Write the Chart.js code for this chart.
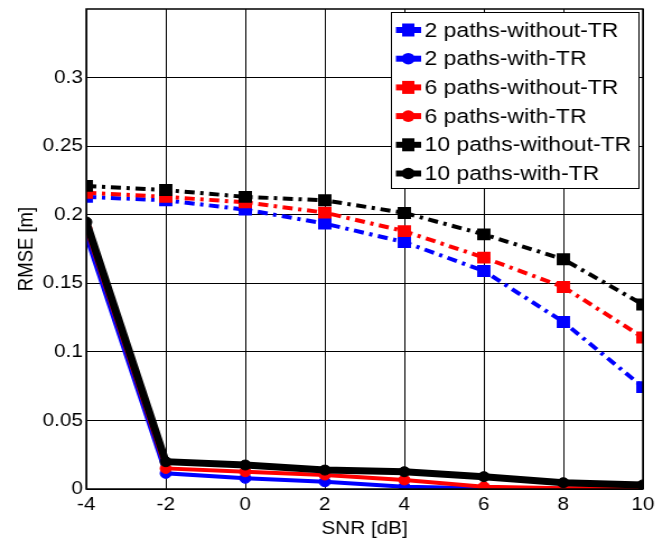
<!DOCTYPE html>
<html><head><meta charset="utf-8">
<script src="https://cdn.jsdelivr.net/npm/chart.js@4/dist/chart.umd.min.js"></script>
<style>
html,body{margin:0;padding:0;background:#fff;overflow:hidden}
#wrap{width:598px;height:540px;transform:scaleX(1.12);transform-origin:0 0}
</style>
</head><body><div id="wrap"><canvas id="c" width="598" height="540"></canvas></div>
<script>
const snr = [-4, -2, 0, 2, 4, 6, 8, 10];
const seriesLabels = ['2 paths-without-TR','2 paths-with-TR','6 paths-without-TR','6 paths-with-TR','10 paths-without-TR','10 paths-with-TR'];
const p2NoTR  = [0.213, 0.2105, 0.2037, 0.1935, 0.180, 0.159, 0.1218, 0.0743];
const p2TR    = [0.184, 0.0114, 0.0078, 0.0053, 0.0017, 0.0005, 0.0002, 0.0003];
const p6NoTR  = [0.216, 0.213, 0.209, 0.2015, 0.188, 0.1687, 0.1473, 0.1105];
const p6TR    = [0.190, 0.015, 0.0126, 0.0102, 0.0066, 0.0017, 0.0005, 0.001];
const p10NoTR = [0.221, 0.218, 0.213, 0.2105, 0.2013, 0.1857, 0.1675, 0.1345];
const p10TR   = [0.1947, 0.0199, 0.0175, 0.0138, 0.0126, 0.009, 0.0046, 0.003];
const yTicks = [0, 0.05, 0.1, 0.15, 0.2, 0.25, 0.3];
const xTicks = [-4, -2, 0, 2, 4, 6, 8, 10];

const toXY = arr => arr.map((v, i) => ({x: snr[i], y: v}));
const FONT = "'Liberation Sans', Arial, sans-serif";

function noTR(label, color, data, order) {
  return {label, data: toXY(data), borderColor: color, backgroundColor: color,
    borderWidth: 4, borderDash: [9, 5, 3, 5], pointStyle: 'rect', pointRadius: 7,
    pointBorderWidth: 2, pointBorderColor: color, pointBackgroundColor: color, order, _mk: 'rect'};
}
function withTR(label, color, data, width, order) {
  return {label, data: toXY(data), borderColor: color, backgroundColor: color,
    borderWidth: width, pointStyle: 'circle', pointRadius: 5,
    pointBorderWidth: 1, pointBorderColor: color, pointBackgroundColor: color, order, _mk: 'circle'};
}

const legendPlugin = {
  id: 'inLegend',
  afterDraw(chart) {
    const ctx = chart.ctx;
    const ca = chart.chartArea;
    ctx.save();
    ctx.strokeStyle = '#000'; ctx.lineWidth = 1.5;
    ctx.strokeRect(ca.left, ca.top, ca.right - ca.left, ca.bottom - ca.top);
    const bx = 349, by = 12, bw = 221, bh = 176;
    ctx.fillStyle = '#fff'; ctx.fillRect(bx, by, bw, bh);
    ctx.strokeStyle = '#000'; ctx.lineWidth = 1; ctx.strokeRect(bx + 0.5, by + 0.5, bw, bh);
    ctx.font = '20.5px ' + FONT; ctx.textBaseline = 'middle'; ctx.textAlign = 'left';
    chart.data.datasets.forEach((ds, i) => {
      const y = 30 + i * 28.7;
      ctx.strokeStyle = ds.borderColor; ctx.fillStyle = ds.borderColor;
      ctx.lineWidth = 6; ctx.setLineDash([]);
      ctx.beginPath(); ctx.moveTo(353.5, y); ctx.lineTo(376, y); ctx.stroke();
      if (ds._mk === 'rect') { ctx.fillRect(359, y - 6.5, 11, 13); }
      else { ctx.beginPath(); ctx.arc(364.5, y, 5.8, 0, Math.PI * 2); ctx.fill(); }
      ctx.fillStyle = '#000';
      ctx.fillText(ds.label, 379, y + 1);
    });
    ctx.restore();
  }
};

new Chart(document.getElementById('c'), {
  type: 'line',
  data: {
    datasets: [
      noTR(seriesLabels[0], '#0000ff', p2NoTR, 6),
      withTR(seriesLabels[1], '#0000ff', p2TR, 4, 5),
      noTR(seriesLabels[2], '#ff0000', p6NoTR, 4),
      withTR(seriesLabels[3], '#ff0000', p6TR, 4, 3),
      noTR(seriesLabels[4], '#000000', p10NoTR, 2),
      withTR(seriesLabels[5], '#000000', p10TR, 7, 1)
    ]
  },
  options: {
    responsive: false, animation: false, devicePixelRatio: 1,
    layout: {padding: {top: 8, right: 24, left: 13, bottom: 0}},
    plugins: {legend: {display: false}, tooltip: {enabled: false}},
    elements: {line: {tension: 0}},
    scales: {
      x: {
        type: 'linear', min: -4, max: 10,
        afterBuildTicks: s => { s.ticks = xTicks.map(v => ({value: v})); },
        afterFit: s => { s.height = 51; s.paddingLeft = 0; s.paddingRight = 0; },
        grid: {color: '#000', lineWidth: 1, drawTicks: false},
        border: {display: false},
        ticks: {color: '#000', font: {family: FONT, size: 18.5}, padding: 5, maxRotation: 0},
        title: {display: true, text: 'SNR [dB]', color: '#000', font: {family: FONT, size: 18.5}, padding: {top: 0, bottom: 0}}
      },
      y: {
        min: 0, max: 0.35,
        afterBuildTicks: s => { s.ticks = yTicks.map(v => ({value: v})); },
        afterFit: s => { s.width = 64; s.paddingTop = 0; s.paddingBottom = 0; },
        grid: {color: '#000', lineWidth: 1, drawTicks: false},
        border: {display: false},
        ticks: {color: '#000', font: {family: FONT, size: 18.5}, padding: 3, callback: v => String(+v.toFixed(2))},
        title: {display: true, text: 'RMSE [m]', color: '#000', font: {family: FONT, size: 18.5}, padding: {top: 0, bottom: 0}}
      }
    }
  },
  plugins: [legendPlugin]
});
</script></body></html>
